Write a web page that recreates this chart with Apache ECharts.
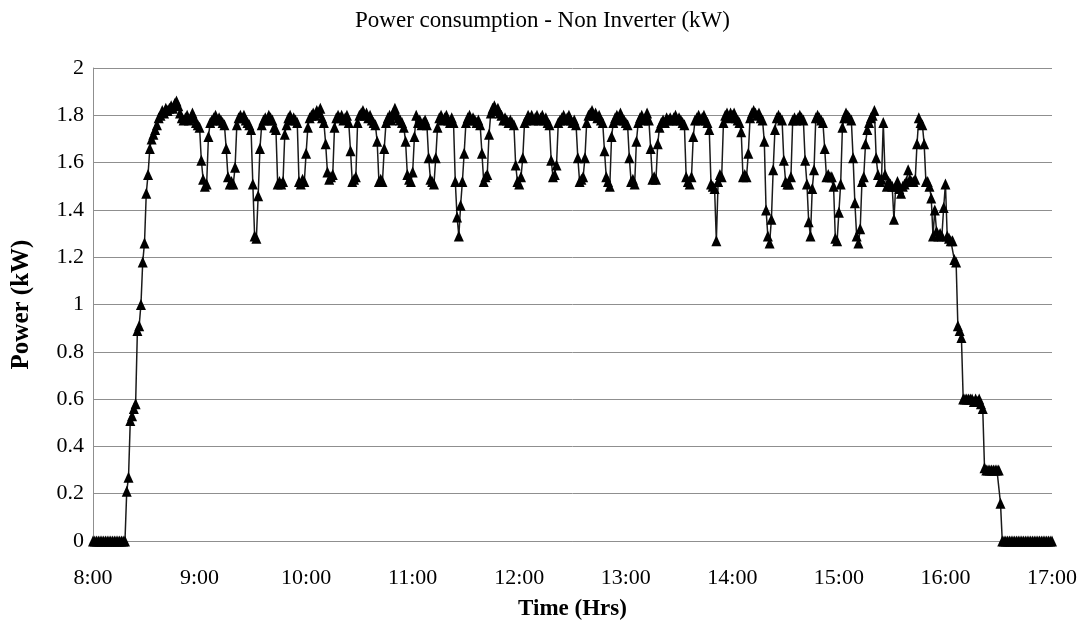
<!DOCTYPE html>
<html>
  <head>
    <meta charset="utf-8" />
    <title>Power consumption - Non Inverter</title>
    <script src="https://cdn.jsdelivr.net/npm/echarts/dist/echarts.min.js"></script>
    <style>
      html, body { margin: 0; padding: 0; background: #fff; }
      #main { width: 1085px; height: 632px; }
    </style>
  </head>
  <body>
    <div id="main"></div>
    <script type="text/javascript">
// one reading per minute, 8:00 .. 17:00
var startHour = 8;
var endHour = 17;
// power readings (kW)
var power = [
  0,0,0,0,0,0,0,0,0,0,
  0,0,0,0,0,0,0,0,0,0.21,
  0.27,0.51,0.53,0.56,0.58,0.89,0.91,1.0,1.18,1.26,
  1.47,1.55,1.66,1.70,1.72,1.74,1.76,1.79,1.80,1.82,
  1.81,1.83,1.82,1.83,1.84,1.83,1.85,1.86,1.84,1.81,
  1.79,1.78,1.79,1.80,1.78,1.79,1.81,1.79,1.77,1.76,
  1.75,1.61,1.53,1.50,1.51,1.71,1.77,1.78,1.79,1.80,
  1.78,1.79,1.78,1.77,1.76,1.66,1.54,1.51,1.52,1.51,
  1.58,1.76,1.79,1.80,1.79,1.80,1.78,1.77,1.76,1.74,
  1.51,1.29,1.28,1.46,1.66,1.76,1.78,1.79,1.78,1.80,
  1.79,1.78,1.75,1.74,1.51,1.52,1.51,1.52,1.72,1.76,
  1.79,1.80,1.78,1.79,1.78,1.77,1.52,1.51,1.53,1.52,
  1.64,1.75,1.79,1.80,1.81,1.80,1.82,1.81,1.83,1.79,
  1.77,1.68,1.56,1.53,1.54,1.55,1.75,1.79,1.80,1.79,
  1.80,1.78,1.79,1.80,1.77,1.65,1.52,1.53,1.54,1.77,
  1.80,1.81,1.82,1.80,1.81,1.79,1.80,1.78,1.77,1.76,
  1.69,1.52,1.53,1.52,1.66,1.77,1.79,1.80,1.78,1.81,
  1.83,1.80,1.79,1.78,1.77,1.75,1.69,1.55,1.53,1.52,
  1.56,1.71,1.80,1.77,1.78,1.76,1.77,1.78,1.76,1.62,
  1.53,1.52,1.51,1.62,1.75,1.79,1.80,1.78,1.79,1.80,
  1.78,1.77,1.79,1.77,1.52,1.37,1.29,1.42,1.52,1.64,
  1.77,1.79,1.80,1.78,1.79,1.78,1.77,1.78,1.76,1.64,
  1.52,1.54,1.55,1.72,1.81,1.83,1.84,1.82,1.83,1.81,
  1.80,1.78,1.79,1.78,1.77,1.78,1.77,1.76,1.59,1.52,
  1.51,1.54,1.62,1.77,1.78,1.80,1.79,1.80,1.78,1.79,
  1.80,1.78,1.79,1.80,1.78,1.79,1.77,1.76,1.61,1.54,
  1.55,1.59,1.77,1.78,1.79,1.80,1.78,1.79,1.80,1.78,
  1.77,1.78,1.76,1.62,1.52,1.53,1.54,1.62,1.77,1.80,
  1.81,1.82,1.80,1.81,1.79,1.80,1.78,1.77,1.65,1.54,
  1.52,1.50,1.71,1.77,1.79,1.80,1.78,1.81,1.79,1.78,
  1.77,1.76,1.62,1.52,1.53,1.51,1.69,1.77,1.79,1.80,
  1.78,1.79,1.81,1.78,1.66,1.53,1.54,1.53,1.68,1.75,
  1.77,1.78,1.77,1.79,1.78,1.79,1.78,1.79,1.80,1.78,
  1.79,1.78,1.77,1.76,1.54,1.52,1.51,1.54,1.71,1.78,
  1.79,1.80,1.78,1.79,1.80,1.78,1.77,1.74,1.51,1.50,
  1.49,1.27,1.52,1.55,1.54,1.77,1.80,1.81,1.79,1.81,
  1.80,1.81,1.79,1.78,1.77,1.73,1.54,1.55,1.54,1.64,
  1.79,1.81,1.82,1.81,1.80,1.81,1.79,1.78,1.69,1.40,
  1.29,1.26,1.36,1.57,1.74,1.79,1.80,1.79,1.78,1.61,
  1.52,1.51,1.51,1.54,1.78,1.79,1.78,1.79,1.80,1.79,
  1.78,1.61,1.51,1.35,1.29,1.49,1.57,1.79,1.80,1.79,
  1.78,1.77,1.66,1.54,1.55,1.54,1.54,1.50,1.28,1.27,
  1.39,1.51,1.75,1.79,1.81,1.80,1.79,1.78,1.62,1.43,
  1.29,1.26,1.32,1.52,1.54,1.68,1.74,1.77,1.79,1.80,
  1.82,1.62,1.55,1.52,1.53,1.77,1.55,1.50,1.52,1.51,
  1.50,1.36,1.50,1.52,1.49,1.47,1.50,1.51,1.52,1.57,
  1.53,1.52,1.52,1.53,1.68,1.79,1.77,1.76,1.68,1.52,
  1.52,1.50,1.45,1.29,1.40,1.31,1.29,1.30,1.29,1.41,
  1.51,1.29,1.28,1.27,1.27,1.19,1.18,0.91,0.89,0.86,
  0.60,0.60,0.60,0.60,0.60,0.60,0.59,0.60,0.59,0.60,
  0.58,0.56,0.31,0.30,0.30,0.30,0.30,0.30,0.30,0.30,
  0.30,0.16,0,0,0,0,0,0,0,0,
  0,0,0,0,0,0,0,0,0,0,
  0,0,0,0,0,0,0,0,0,0,
  0
];

// time labels H:MM for each reading
var times = [];
for (var m = 0; m <= (endHour - startHour) * 60; m++) {
  var h = startHour + Math.floor(m / 60);
  var mm = m % 60;
  times.push(h + ':' + (mm < 10 ? '0' + mm : mm));
}

var serif = '"Liberation Serif", "Times New Roman", serif';
var gridColor = '#8f8f8f';

var myChart = echarts.init(document.getElementById('main'));
var option = {
  animation: false,
  title: {
    text: 'Power consumption - Non Inverter (kW)',
    left: 'center',
    top: 4,
    textStyle: { fontFamily: serif, fontSize: 23, fontWeight: 'normal', color: '#000' }
  },
  grid: { left: 93, right: 33, top: 68, bottom: 91 },
  xAxis: {
    type: 'category',
    data: times,
    boundaryGap: false,
    name: 'Time (Hrs)',
    nameLocation: 'middle',
    nameGap: 57,
    nameTextStyle: { fontFamily: serif, fontSize: 23, fontWeight: 'bold', color: '#000' },
    axisLine: { lineStyle: { color: gridColor } },
    axisTick: { show: false },
    axisLabel: {
      interval: function (idx) { return idx % 60 === 0; },
      fontFamily: serif, fontSize: 22, color: '#000', margin: 26
    },
    splitLine: { show: false }
  },
  yAxis: {
    type: 'value',
    min: 0,
    max: 2,
    interval: 0.2,
    name: 'Power (kW)',
    nameLocation: 'middle',
    nameRotate: 90,
    nameGap: 59,
    nameTextStyle: { fontFamily: serif, fontSize: 25, fontWeight: 'bold', color: '#000' },
    axisLine: { show: true, lineStyle: { color: gridColor } },
    axisTick: { show: false },
    axisLabel: {
      formatter: function (v) { return String(+v.toFixed(1)); },
      fontFamily: serif, fontSize: 22, color: '#000', margin: 9
    },
    splitLine: { lineStyle: { color: gridColor, width: 1 } }
  },
  series: [
    {
      type: 'line',
      data: power,
      showAllSymbol: true,
      symbol: 'triangle',
      symbolSize: [10, 11],
      itemStyle: { color: '#000' },
      lineStyle: { color: '#1a1a1a', width: 1.5 }
    }
  ]
};
myChart.setOption(option);
    </script>
  </body>
</html>
